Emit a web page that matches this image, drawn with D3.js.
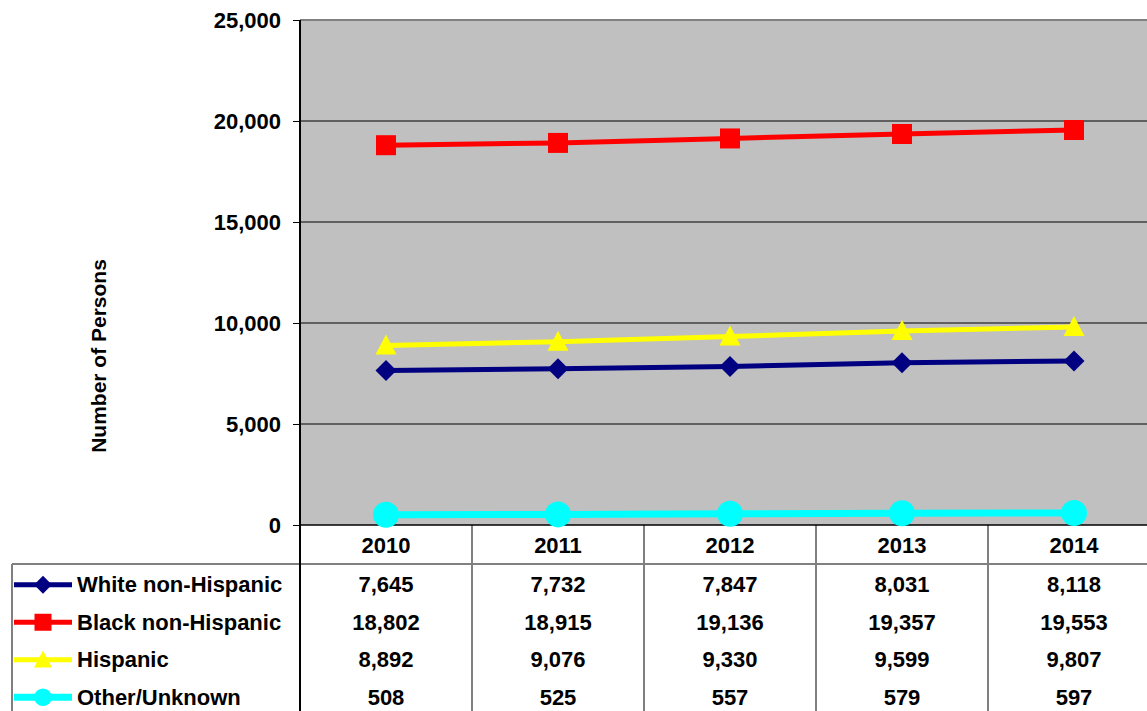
<!DOCTYPE html>
<html>
<head>
<meta charset="utf-8">
<script src="https://cdn.jsdelivr.net/npm/d3@7"></script>
<style>
  body { margin: 0; background: #fff; }
  svg { display: block; font-family: "Liberation Sans", Arial, sans-serif; font-weight: bold; }
  .axis path { display: none; }
  .axis line { stroke: #000; }
  .axis text { font-size: 22px; fill: #000; }
</style>
</head>
<body>
<svg id="chart"></svg>
<script>
// data
const years = ["2010", "2011", "2012", "2013", "2014"];
const seriesNames = ["White non-Hispanic", "Black non-Hispanic", "Hispanic", "Other/Unknown"];
const whiteNonHispanic = [7645, 7732, 7847, 8031, 8118];
const blackNonHispanic = [18802, 18915, 19136, 19357, 19553];
const hispanic = [8892, 9076, 9330, 9599, 9807];
const otherUnknown = [508, 525, 557, 579, 597];
const yTicks = [0, 5000, 10000, 15000, 20000, 25000];
const yTitle = "Number of Persons";

const series = [
  {name: seriesNames[0], values: whiteNonHispanic, color: "#000080", width: 5, marker: "diamond"},
  {name: seriesNames[1], values: blackNonHispanic, color: "#FF0000", width: 5, marker: "square"},
  {name: seriesNames[2], values: hispanic, color: "#FFFF00", width: 5, marker: "triangle"},
  {name: seriesNames[3], values: otherUnknown, color: "#00FFFF", width: 7, marker: "circle"}
];

const W = 1147, H = 711;
const plot = {left: 300, right: 1160, top: 20, bottom: 525};
const tableLeft = 12;

const svg = d3.select("#chart").attr("width", W).attr("height", H);

const x = d3.scaleBand().domain(years).range([plot.left, plot.right]);
const y = d3.scaleLinear().domain([0, 25000]).range([plot.bottom, plot.top]);
const rowY = d3.scaleBand().domain(seriesNames).range([566, 716]);
const fmt = d3.format(",");

// marker paths centred on 0,0, k scales them (legend keys are a bit smaller)
function markerPath(type, k) {
  if (type === "diamond") return `M0,${-10.5 * k}L${10.5 * k},0L0,${10.5 * k}L${-10.5 * k},0Z`;
  if (type === "square") return `M${-10 * k},${-10 * k}H${10 * k}V${10 * k}H${-10 * k}Z`;
  if (type === "triangle") return `M0,${-11 * k}L${10.5 * k},${9 * k}H${-10.5 * k}Z`;
  return d3.symbol(d3.symbolCircle, Math.PI * 169 * k * k)();
}

// plot background
svg.append("rect")
    .attr("x", plot.left).attr("y", plot.top)
    .attr("width", plot.right - plot.left).attr("height", plot.bottom - plot.top)
    .attr("fill", "#C0C0C0");

// gridlines
svg.append("g").selectAll("line")
    .data(yTicks.slice(1, -1))
    .join("line")
    .attr("x1", plot.left).attr("x2", plot.right)
    .attr("y1", d => y(d)).attr("y2", d => y(d))
    .attr("stroke", "#000").attr("stroke-width", 1);

// top border
svg.append("line")
    .attr("x1", plot.left).attr("x2", plot.right)
    .attr("y1", plot.top).attr("y2", plot.top)
    .attr("stroke", "#808080").attr("stroke-width", 2);

// y axis
const yAxis = d3.axisLeft(y).tickValues(yTicks).tickFormat(fmt).tickSize(7).tickPadding(12);
svg.append("g")
    .attr("class", "axis")
    .attr("transform", `translate(${plot.left},0)`)
    .call(yAxis);

svg.append("text")
    .attr("transform", `translate(106,356) rotate(-90)`)
    .attr("text-anchor", "middle")
    .attr("font-size", 21)
    .text(yTitle);

// table grid
const tableG = svg.append("g");
tableG.append("line")
    .attr("x1", tableLeft).attr("x2", W)
    .attr("y1", 564).attr("y2", 564)
    .attr("stroke", "#808080").attr("stroke-width", 2);
tableG.append("line")
    .attr("x1", tableLeft).attr("x2", tableLeft)
    .attr("y1", 564).attr("y2", H)
    .attr("stroke", "#808080").attr("stroke-width", 2);
tableG.selectAll(".vline")
    .data(years.slice(1))
    .join("line")
    .attr("class", "vline")
    .attr("x1", d => x(d)).attr("x2", d => x(d))
    .attr("y1", plot.bottom).attr("y2", H)
    .attr("stroke", "#808080").attr("stroke-width", 2);

// axis line + bottom line
svg.append("line")
    .attr("x1", plot.left).attr("x2", plot.left)
    .attr("y1", plot.top).attr("y2", H)
    .attr("stroke", "#000").attr("stroke-width", 2);
svg.append("line")
    .attr("x1", plot.left).attr("x2", plot.right)
    .attr("y1", plot.bottom).attr("y2", plot.bottom)
    .attr("stroke", "#000").attr("stroke-width", 1.5);

// year header
svg.append("g").selectAll("text")
    .data(years)
    .join("text")
    .attr("x", d => x(d) + x.bandwidth() / 2)
    .attr("y", 545)
    .attr("dy", "0.35em")
    .attr("text-anchor", "middle")
    .attr("font-size", 22)
    .text(d => d);

// lines and markers
const line = d3.line()
    .x((d, i) => x(years[i]) + x.bandwidth() / 2)
    .y(d => y(d));

series.forEach(s => {
  const g = svg.append("g");
  g.append("path")
      .datum(s.values)
      .attr("d", line)
      .attr("fill", "none")
      .attr("stroke", s.color)
      .attr("stroke-width", s.width);
  g.selectAll("path.mk")
      .data(s.values)
      .join("path")
      .attr("class", "mk")
      .attr("d", markerPath(s.marker, 1))
      .attr("transform", (d, i) => `translate(${x(years[i]) + x.bandwidth() / 2},${y(d)})`)
      .attr("fill", s.color);

  // table row
  const cy = rowY(s.name) + rowY.bandwidth() / 2;
  const row = svg.append("g");
  row.append("line")
      .attr("x1", 14).attr("x2", 72)
      .attr("y1", cy).attr("y2", cy)
      .attr("stroke", s.color).attr("stroke-width", s.width);
  row.append("path")
      .attr("d", markerPath(s.marker, s.marker === "circle" ? 0.68 : 0.85))
      .attr("transform", `translate(43,${cy})`)
      .attr("fill", s.color);
  row.append("text")
      .attr("x", 77).attr("y", cy).attr("dy", "0.35em")
      .attr("font-size", 22)
      .text(s.name);
  row.selectAll("text.val")
      .data(s.values)
      .join("text")
      .attr("class", "val")
      .attr("x", (d, i) => x(years[i]) + x.bandwidth() / 2)
      .attr("y", cy).attr("dy", "0.35em")
      .attr("text-anchor", "middle")
      .attr("font-size", 22)
      .text(d => fmt(d));
});
</script>
</body>
</html>
